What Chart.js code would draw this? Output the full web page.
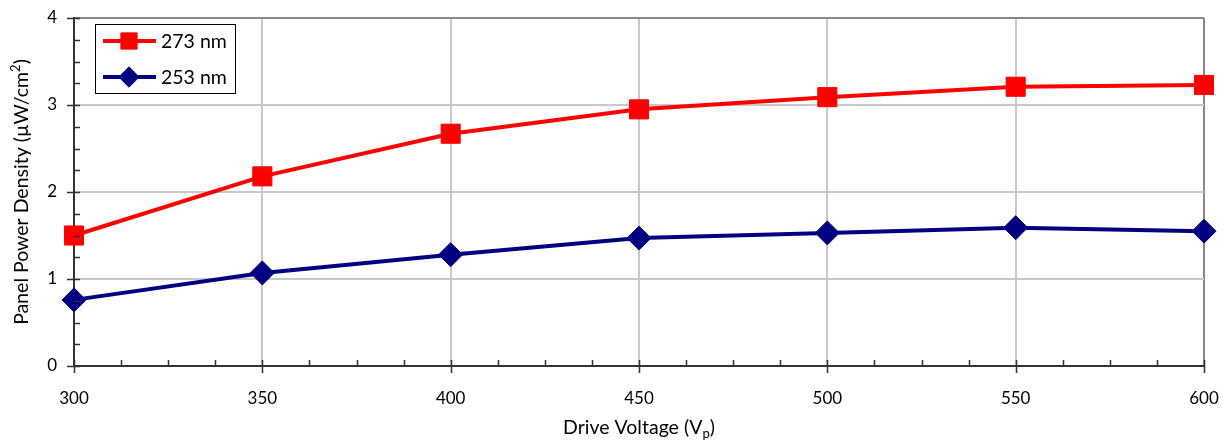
<!DOCTYPE html>
<html>
<head>
<meta charset="utf-8">
<script src="https://cdn.jsdelivr.net/npm/chart.js@4/dist/chart.umd.min.js"></script>
<style>
  html, body { margin: 0; padding: 0; background: #fff; }
  #wrap { width: 1228px; height: 440px; }
</style>
</head>
<body>
<div id="wrap"><canvas id="powerChart" width="1228" height="440"></canvas></div>
<script>
const voltages = [300, 350, 400, 450, 500, 550, 600];
const density273 = [1.50, 2.18, 2.67, 2.95, 3.09, 3.21, 3.23];
const density253 = [0.76, 1.07, 1.28, 1.47, 1.53, 1.59, 1.55];
const xTicks = [300, 350, 400, 450, 500, 550, 600];
const yTicks = [0, 1, 2, 3, 4];
const seriesLabels = ['273 nm', '253 nm'];

const FONT = "Lato, 'Open Sans', sans-serif";
const TITLE_SIZE = 19.5;

// write a string with one small raised or lowered piece, centred on 0
function richText(ctx, parts, y, shift) {
    const widths = parts.map((p, i) => {
        ctx.font = (i === 1 ? 13 : TITLE_SIZE) + 'px ' + FONT;
        return ctx.measureText(p).width;
    });
    let x = -widths.reduce((a, b) => a + b, 0) / 2;
    parts.forEach((p, i) => {
        ctx.font = (i === 1 ? 13 : TITLE_SIZE) + 'px ' + FONT;
        ctx.fillText(p, x, i === 1 ? y + shift : y);
        x += widths[i];
    });
}

// minor/major tick marks, axis titles and the boxed legend
const Extras = {
    id: 'extras',
    afterDraw(chart) {
        const ctx = chart.ctx;
        const area = chart.chartArea;
        const xs = chart.scales.x;
        const ys = chart.scales.y;
        ctx.save();
        ctx.strokeStyle = '#333';
        ctx.lineWidth = 1.5;
        ctx.beginPath();
        for (let v = xs.min; v <= xs.max + 0.01; v += 12.5) {
            const px = Math.round(xs.getPixelForValue(v)) + 0.5;
            const major = (v - xs.min) % 50 === 0;
            ctx.moveTo(px, area.bottom - 6);
            ctx.lineTo(px, area.bottom + (major ? 7 : 0));
        }
        for (let v = ys.min; v <= ys.max + 0.001; v += 0.25) {
            const py = Math.round(ys.getPixelForValue(v)) + 0.5;
            const major = Math.abs(v - Math.round(v)) < 0.001;
            ctx.moveTo(area.left + 6, py);
            ctx.lineTo(area.left - (major ? 7 : 0), py);
        }
        ctx.stroke();

        // axis titles
        ctx.fillStyle = '#000';
        ctx.textBaseline = 'alphabetic';
        ctx.save();
        ctx.translate((area.left + area.right) / 2, 0);
        richText(ctx, ['Drive Voltage (V', 'p', ')'], 434, 4);
        ctx.restore();

        ctx.save();
        ctx.translate(28, (area.top + area.bottom) / 2);
        ctx.rotate(-Math.PI / 2);
        richText(ctx, ['Panel Power Density (\u00b5W/cm', '2', ')'], 0, -8);
        ctx.restore();

        // legend box
        const lx = area.left + 21, ly = area.top + 6;
        ctx.fillStyle = '#fff';
        ctx.fillRect(lx, ly, 140, 69);
        ctx.strokeStyle = '#000';
        ctx.lineWidth = 1;
        ctx.strokeRect(lx + 0.5, ly + 0.5, 140, 69);
        chart.data.datasets.forEach((ds, i) => {
            const cy = ly + 17 + i * 36;
            ctx.strokeStyle = ds.borderColor;
            ctx.fillStyle = ds.borderColor;
            ctx.lineWidth = 4;
            ctx.beginPath();
            ctx.moveTo(lx + 8, cy);
            ctx.lineTo(lx + 61, cy);
            ctx.stroke();
            ctx.lineWidth = 1;
            Chart.helpers.drawPoint(ctx, {
                pointStyle: ds.pointStyle,
                radius: ds.pointRadius * 0.85,
                borderWidth: 1
            }, lx + 34, cy);
            ctx.fillStyle = '#000';
            ctx.font = TITLE_SIZE + 'px ' + FONT;
            ctx.textBaseline = 'middle';
            ctx.textAlign = 'left';
            ctx.fillText(ds.label, lx + 66, cy + 1);
        });
        ctx.restore();
    }
};

function seriesColor(color) {
    return {
        borderColor: color,
        backgroundColor: color,
        pointBackgroundColor: color,
        pointBorderColor: color
    };
}

// keep the plot box fixed, ignoring label overhang
function noOverhang(s) {
    s.paddingTop = 0;
    s.paddingBottom = 0;
    s.paddingLeft = 0;
    s.paddingRight = 0;
}

new Chart(document.getElementById('powerChart'), {
    type: 'line',
    data: {
        datasets: [
            Object.assign({
                label: seriesLabels[0],
                data: voltages.map((v, i) => ({ x: v, y: density273[i] })),
                borderWidth: 4,
                pointStyle: 'rect',
                pointRadius: 13.5,
                pointBorderWidth: 1,
                clip: false
            }, seriesColor('#ff0000')),
            Object.assign({
                label: seriesLabels[1],
                data: voltages.map((v, i) => ({ x: v, y: density253[i] })),
                borderWidth: 4,
                pointStyle: 'rectRot',
                pointRadius: 12,
                pointBorderWidth: 1,
                clip: false
            }, seriesColor('#000080'))
        ]
    },
    options: {
        responsive: false,
        animation: false,
        layout: { padding: { top: 18, right: 24, left: 0, bottom: 0 } },
        plugins: {
            legend: { display: false },
            tooltip: { enabled: false }
        },
        scales: {
            x: {
                type: 'linear',
                min: 300,
                max: 600,
                afterBuildTicks: s => { s.ticks = xTicks.map(v => ({ value: v })); },
                afterFit: s => { s.height = 74; noOverhang(s); },
                ticks: {
                    color: '#000',
                    font: { family: FONT, size: 17 },
                    padding: 22,
                    maxRotation: 0
                },
                grid: {
                    drawTicks: false,
                    lineWidth: 2,
                    color: c => c.tick && c.tick.value === 600 ? '#888' : '#c8c8c8'
                },
                border: { color: '#333', width: 2 }
            },
            y: {
                min: 0,
                max: 4,
                afterBuildTicks: s => { s.ticks = yTicks.map(v => ({ value: v })); },
                afterFit: s => { s.width = 74; noOverhang(s); },
                ticks: {
                    color: '#000',
                    font: { family: FONT, size: 17 },
                    padding: 17
                },
                grid: {
                    drawTicks: false,
                    lineWidth: 2,
                    color: c => c.tick && c.tick.value === 4 ? '#888' : '#c8c8c8'
                },
                border: { color: '#333', width: 2 }
            }
        }
    },
    plugins: [Extras]
});
</script>
</body>
</html>
